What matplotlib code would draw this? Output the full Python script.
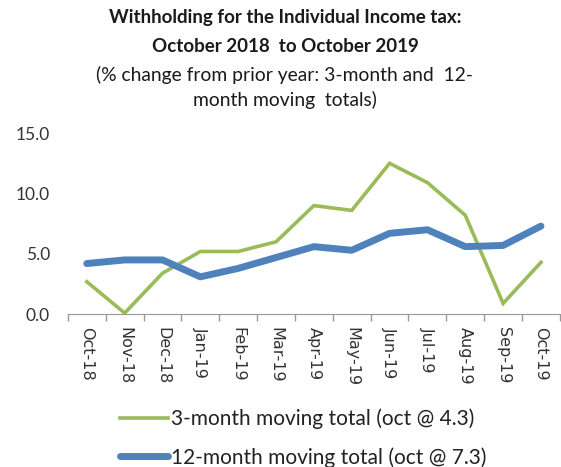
import matplotlib
matplotlib.use("Agg")
import matplotlib.pyplot as plt
import numpy as np

months = ["Oct-18", "Nov-18", "Dec-18", "Jan-19", "Feb-19", "Mar-19", "Apr-19",
          "May-19", "Jun-19", "Jul-19", "Aug-19", "Sep-19", "Oct-19"]
three_month = [2.7, 0.1, 3.4, 5.2, 5.2, 6.0, 9.0, 8.6, 12.5, 10.9, 8.2, 0.9, 4.3]
twelve_month = [4.2, 4.5, 4.5, 3.1, 3.8, 4.7, 5.6, 5.3, 6.7, 7.0, 5.6, 5.7, 7.3]

GREEN = "#9bbb59"
BLUE = "#4f81bd"
FONT = ["Lato", "DejaVu Sans"]

fig = plt.figure(figsize=(5.61, 4.67), dpi=100)
ax = fig.add_axes([0.121, 0.327, 0.877, 0.388])

x = np.arange(len(months))
l3, = ax.plot(x, three_month, color=GREEN, lw=2.6, solid_joinstyle="miter")
l12, = ax.plot(x, twelve_month, color=BLUE, lw=5.0, solid_capstyle="round")

ax.set_xlim(-0.5, len(months) - 0.5)
ax.set_ylim(0, 15)
ax.set_yticks([0, 5, 10, 15])
ax.set_yticklabels([f"{v:.1f}" for v in [0, 5, 10, 15]], family=FONT,
                   fontsize=12.5, color="#333333")
ax.tick_params(axis="y", length=0, pad=13)

ax.set_xticks(x)
ax.set_xticklabels(months, rotation=-90, fontsize=11.5, family="DejaVu Sans",
                   color="#333333")
ax.tick_params(axis="x", length=0, pad=9)
# tick marks on category boundaries
ax.set_xticks(np.arange(-0.5, len(months), 1.0), minor=True)
ax.tick_params(axis="x", which="minor", length=5, color="#999999", width=1)

for s in ["top", "right", "left"]:
    ax.spines[s].set_visible(False)
ax.spines["bottom"].set_color("#999999")

fig.text(0.508, 0.962, "Withholding for the Individual Income tax:",
         ha="center", va="center", fontsize=13.5, fontweight="bold", family=FONT,
         color="#1a1a1a")
fig.text(0.508, 0.900, "October 2018  to October 2019",
         ha="center", va="center", fontsize=13.5, fontweight="bold", family=FONT,
         color="#1a1a1a")
fig.text(0.508, 0.840, "(% change from prior year: 3-month and  12-",
         ha="center", va="center", fontsize=13.9, family=FONT, color="#1a1a1a")
fig.text(0.508, 0.786, "month moving  totals)",
         ha="center", va="center", fontsize=13.9, family=FONT, color="#1a1a1a")

fig.legend([l3, l12],
           ["3-month moving total (oct @ 4.3)", "12-month moving total (oct @ 7.3)"],
           loc="upper left", bbox_to_anchor=(0.18, 0.165), frameon=False,
           prop={"family": FONT, "size": 15}, handlelength=2.3,
           handletextpad=0.15, labelspacing=0.85, labelcolor="#222222")

fig.savefig("out.png", dpi=100, facecolor="white")
